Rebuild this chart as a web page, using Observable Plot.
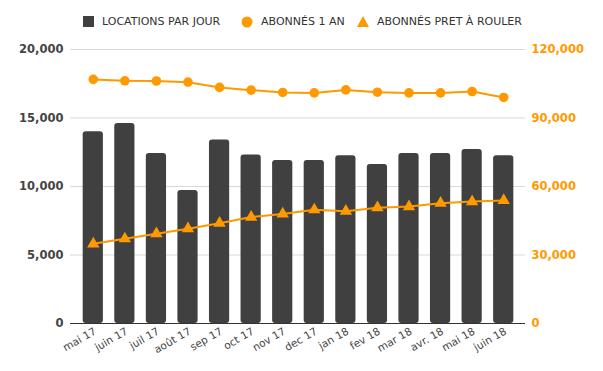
<!DOCTYPE html>
<html><head><meta charset="utf-8">
<script src="https://cdn.jsdelivr.net/npm/d3@7"></script>
<script src="https://cdn.jsdelivr.net/npm/@observablehq/plot@0.6"></script>
<style>
body{margin:0;background:#fff;font-family:"DejaVu Sans",Verdana,sans-serif;}
#legend{position:relative;height:38px;width:603px;}
#legend .item{position:absolute;top:15px;display:flex;align-items:center;font-size:11px;color:#333;white-space:nowrap;}
#legend svg{margin-right:8px;}
</style></head>
<body>
<div id="legend"></div>
<div id="chart"></div>
<script>
const months = ["mai 17","juin 17","juil 17","août 17","sep 17","oct 17","nov 17","dec 17","jan 18","fev 18","mar 18","avr. 18","mai 18","juin 18"];
const locationsParJour = [14000,14600,12400,9700,13400,12300,11900,11900,12250,11600,12400,12400,12700,12250];
const abonnes1An = [106900,106300,106200,105700,103400,102200,101200,101000,102300,101300,101000,101000,101600,99000];
const abonnesPret = [34900,37100,39300,41500,43900,46600,48000,49800,49200,50700,51200,52700,53400,53900];
const seriesNames = ["LOCATIONS PAR JOUR","ABONNÉS 1 AN","ABONNÉS PRET À ROULER"];
const leftTicks = [0,5000,10000,15000,20000];
const ratio = 6;

const dark = "#404040", orange = "#FF9900";

// legend
const leg = document.getElementById("legend");
const legendPos = [83, 241, 357];
const symbols = [
  '<svg width="11" height="11"><rect width="11" height="11" fill="'+dark+'"/></svg>',
  '<svg width="12" height="12"><circle cx="6" cy="6" r="5.5" fill="'+orange+'"/></svg>',
  '<svg width="12" height="11"><path d="M6 0 L12 11 L0 11 Z" fill="'+orange+'"/></svg>'
];
seriesNames.forEach((n,i)=>{
  const d = document.createElement("div");
  d.className="item"; d.style.left = legendPos[i]+"px";
  d.innerHTML = symbols[i] + "<span>"+n+"</span>";
  leg.appendChild(d);
});

const data = months.map((m,i)=>({m, loc: locationsParJour[i], a1: abonnes1An[i]/ratio, ap: abonnesPret[i]/ratio}));
const fmt = d3.format(",");

const chart = Plot.plot({
  width: 603, height: 333,
  marginTop: 11, marginBottom: 48, marginLeft: 77, marginRight: 84,
  style: {fontFamily: '"DejaVu Sans", Verdana, sans-serif', background: "#fff"},
  x: {type: "band", domain: months, paddingInner: 0.36, paddingOuter: 0.18, round: false},
  y: {domain: [0, 20000]},
  marks: [
    Plot.ruleY(leftTicks.slice(1), {stroke: "#d9d9d9", insetLeft: -7, insetRight: -6}),
    Plot.barY(data, {x: "m", y: "loc", fill: dark, rx: 3}),
    Plot.ruleY([0], {stroke: "#333", insetLeft: -7, insetRight: -6}),
    Plot.line(data, {x: "m", y: "a1", stroke: orange, strokeWidth: 2}),
    Plot.dot(data, {x: "m", y: "a1", fill: orange, r: 4.8}),
    Plot.line(data, {x: "m", y: "ap", stroke: orange, strokeWidth: 2}),
    Plot.dot(data, {x: "m", y: "ap", fill: orange, symbol: "triangle", r: 4.6}),
    Plot.axisY({ticks: leftTicks, anchor: "left", tickSize: 0, tickPadding: 14, tickFormat: fmt, label: null, fontSize: 11.5, fontWeight: "bold", fill: "#444"}),
    Plot.axisY({ticks: leftTicks, anchor: "right", tickSize: 0, tickPadding: 12, tickFormat: d => fmt(d*ratio), label: null, fontSize: 11.5, fontWeight: "bold", fill: orange}),
    Plot.axisX({tickSize: 0, tickRotate: -30, tickPadding: 7, label: null, fontSize: 10.5, fill: "#444", dx: 2})
  ]
});
document.getElementById("chart").appendChild(chart);
</script>
</body></html>
